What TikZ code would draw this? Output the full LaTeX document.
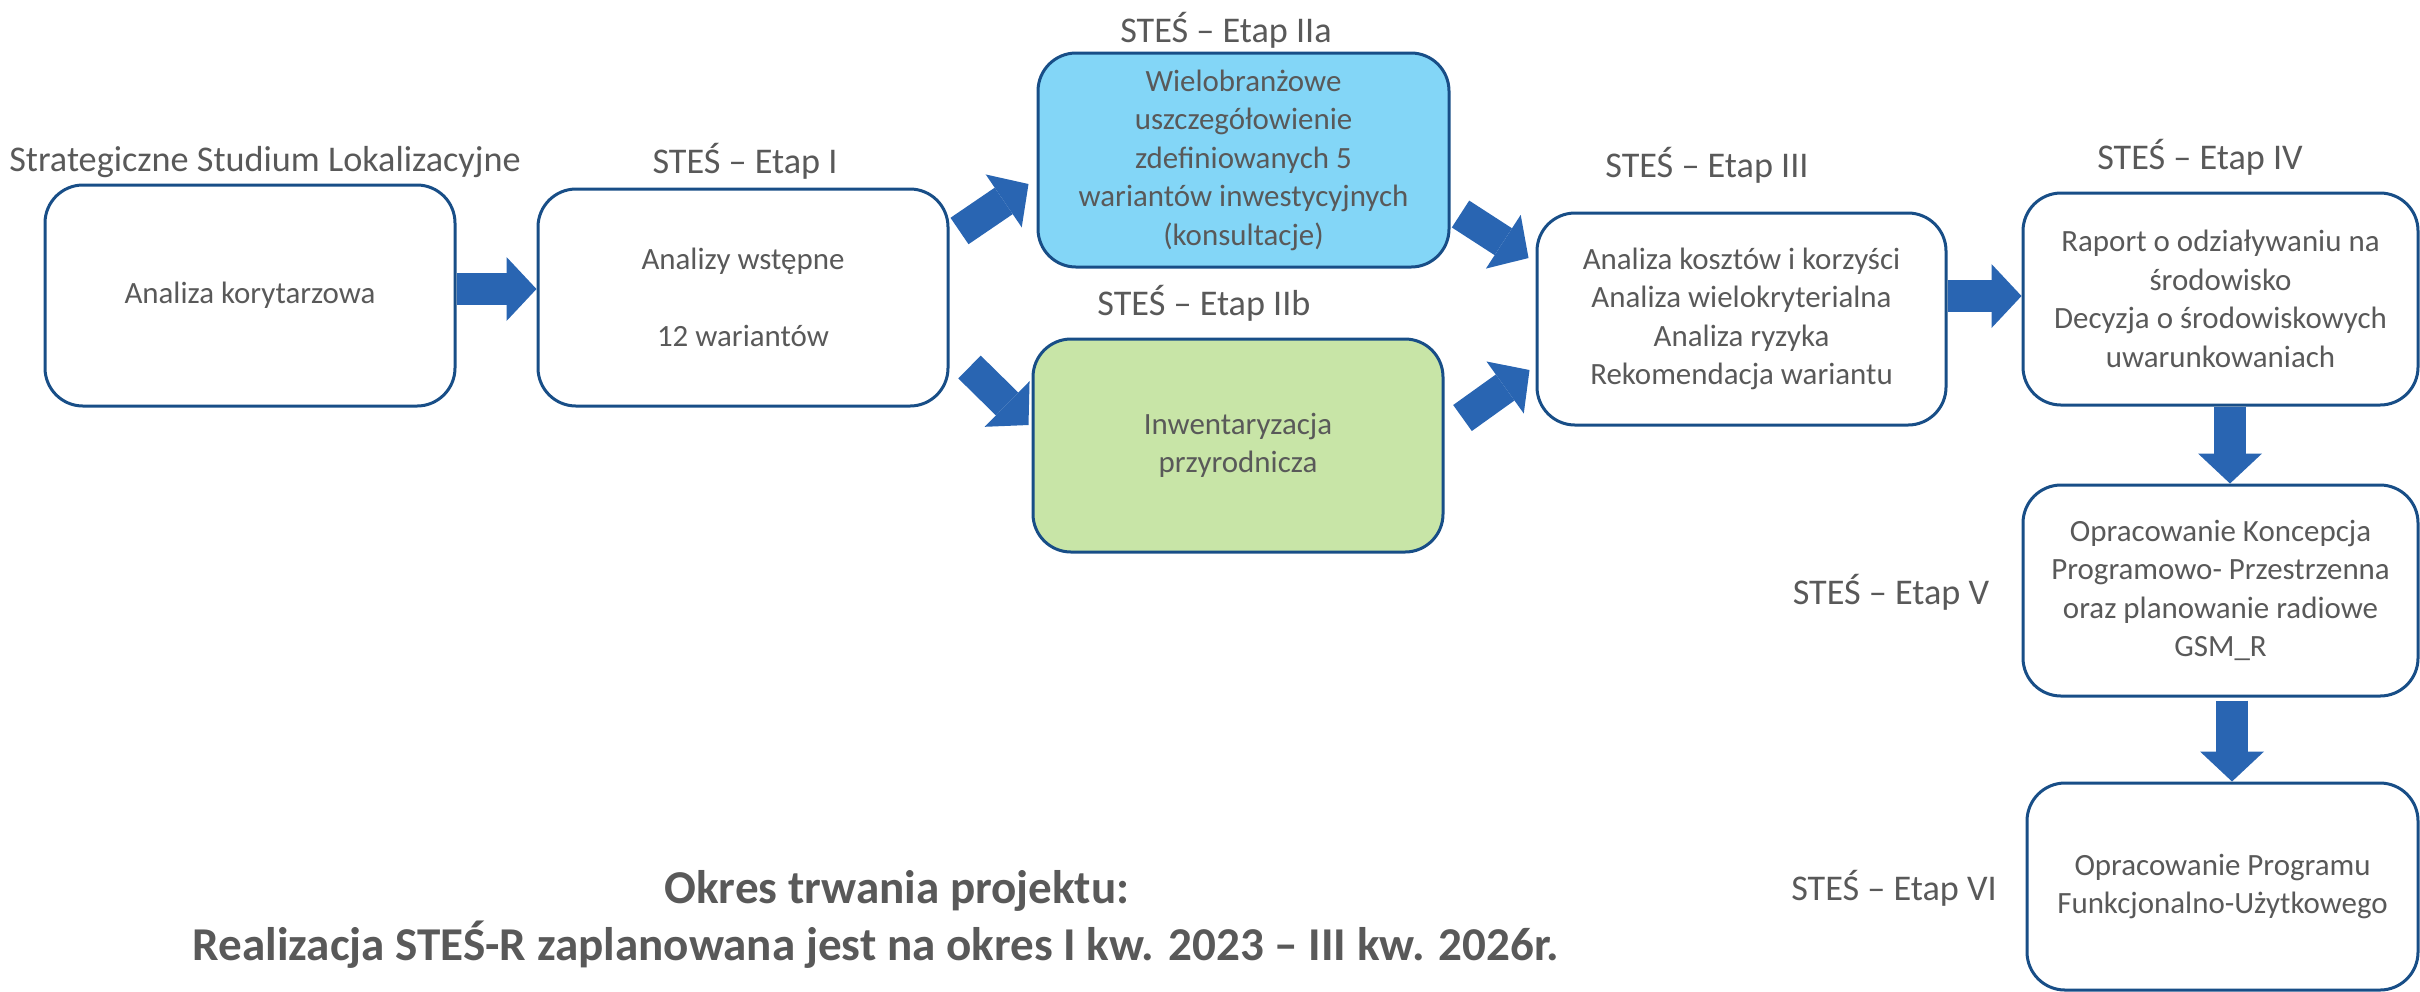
\documentclass[tikz,border=0pt]{standalone}
\usepackage{fontspec}
\setmainfont{Carlito}
\usetikzlibrary{arrows.meta,calc}
\definecolor{boxline}{RGB}{24,78,135}
\definecolor{arrowblue}{RGB}{41,101,178}
\definecolor{fillblue}{RGB}{131,214,247}
\definecolor{fillgreen}{RGB}{200,229,167}
\definecolor{txt}{RGB}{89,89,89}
\begin{document}
\begin{tikzpicture}[x=0.1mm,y=-0.1mm,
  stagebox/.style={draw=boxline, line width=0.3mm, rounded corners=3.8mm, fill=white, align=center, text=txt, font=\fontsize{8.8pt}{10.95pt}\selectfont, inner sep=0pt},
  stagelabel/.style={text=txt, font=\fontsize{10.3pt}{12pt}\selectfont, anchor=base, inner sep=0pt},
  durtext/.style={text=txt, font=\bfseries\fontsize{13.4pt}{16pt}\selectfont, anchor=base, inner sep=0pt},
  blockarrow/.style={draw=arrowblue, line width=3.2mm, -{Triangle[length=3mm,width=6.4mm,line width=0pt]}},
]
\useasboundingbox (0,0) rectangle (2420,991);

% boxes
\node[stagebox, minimum width=41mm, minimum height=22.1mm] (A) at (250,295.5) {Analiza korytarzowa};
\node[stagebox, minimum width=41mm, minimum height=21.7mm] (I) at (743,297.5) {Analizy wstępne\\[10.95pt]12 wariantów};
\node[stagebox, fill=fillblue, minimum width=41.1mm, minimum height=21.4mm] (IIa) at (1243.5,160) {Wielobranżowe\\uszczegółowienie\\zdefiniowanych 5\\wariantów inwestycyjnych\\(konsultacje)};
\node[stagebox, fill=fillgreen, minimum width=41mm, minimum height=21.3mm] (IIb) at (1238,445.5) {Inwentaryzacja\\przyrodnicza};
\node[stagebox, minimum width=40.9mm, minimum height=21.2mm] (III) at (1741.5,319) {Analiza kosztów i korzyści\\Analiza wielokryterialna\\Analiza ryzyka\\Rekomendacja wariantu};
\node[stagebox, minimum width=39.5mm, minimum height=21.2mm] (IV) at (2220.5,299) {Raport o odziaływaniu na\\środowisko\\Decyzja o środowiskowych\\uwarunkowaniach};
\node[stagebox, minimum width=39.5mm, minimum height=21.1mm] (V) at (2220.5,590.5) {Opracowanie Koncepcja\\Programowo- Przestrzenna\\oraz planowanie radiowe\\GSM\_R};
\node[stagebox, minimum width=39.1mm, minimum height=20.7mm] (VI) at (2222.5,886.5) {Opracowanie Programu\\Funkcjonalno-Użytkowego};

% labels
\node[stagelabel] (tSSL) at (265,171) {Strategiczne Studium Lokalizacyjne};
\node[stagelabel] (tI) at (745,173) {STEŚ – Etap I};
\node[stagelabel] (tIIa) at (1226,42) {STEŚ – Etap IIa};
\node[stagelabel] (tIIb) at (1204,315) {STEŚ – Etap IIb};
\node[stagelabel] (tIII) at (1707,177) {STEŚ – Etap III};
\node[stagelabel] (tIV) at (2200,169) {STEŚ – Etap IV};
\node[stagelabel] (tV) at (1891,604) {STEŚ – Etap V};
\node[stagelabel] (tVI) at (1894,900) {STEŚ – Etap VI};

% duration text
\node[durtext] (dur1) at (897,903) {Okres trwania projektu:};
\node[durtext] (dur2) at (876,960) {Realizacja STEŚ-R zaplanowana jest na okres I kw. 2023 – III kw. 2026r.};

% block arrows
\draw[blockarrow] ($(A.east)+(0,-6.5)$) -- ($(I.west)+(0,-8.5)$);
\draw[blockarrow] ($(I.east)+(10,-66.5)$) -- ($(IIa.west)+(-8,24)$);
\draw[blockarrow] ($(I.east)+(20,69.5)$) -- ($(IIb.west)+(-3,-20.5)$);
\draw[blockarrow] ($(IIa.east)+(10,54)$) -- ($(III.west)+(-7,-61)$);
\draw[blockarrow] ($(IIb.east)+(18,-27.5)$) -- ($(III.west)+(-6,51)$);
\draw[blockarrow] ($(III.east)+(0,-23)$) -- ($(IV.west)+(0,-3)$);
\draw[blockarrow] ($(IV.south)+(9.5,0)$) -- ($(V.north)+(9.5,0)$);
\draw[blockarrow] ($(V.south)+(11.5,3)$) -- ($(VI.north)+(9.5,0)$);
\end{tikzpicture}
\end{document}
